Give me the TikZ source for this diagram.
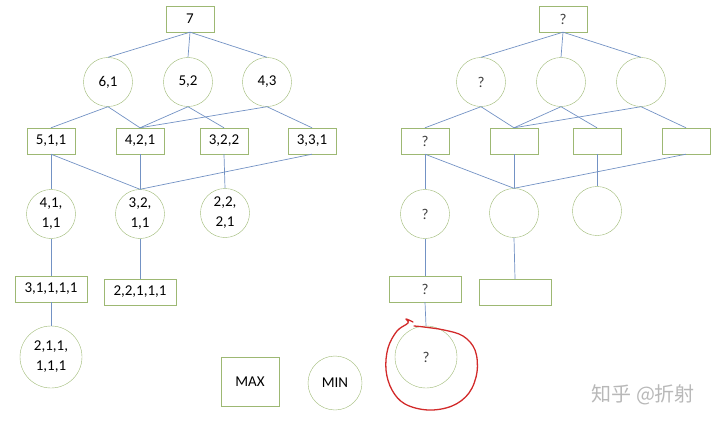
\documentclass[tikz,border=0pt]{standalone}
\usepackage{fontspec}
\setmainfont{Carlito}
\newfontfamily\cjkfont{Noto Sans CJK SC}
\usetikzlibrary{positioning}
\definecolor{nodeline}{HTML}{9DB873}
\definecolor{edgeline}{HTML}{7392C4}
\definecolor{markred}{HTML}{D22A2A}
\definecolor{wmgray}{HTML}{B8B8B8}

\begin{document}
\begin{tikzpicture}[x=1pt, y=-1pt,
  maxb/.style={draw=nodeline, rectangle, minimum width=48pt, minimum height=26pt,
               inner sep=0pt, align=center, font=\fontsize{15}{20}\selectfont},
  wideb/.style={maxb, minimum width=72pt},
  minc/.style={draw=nodeline, circle, minimum size=49pt, inner sep=0pt,
               align=center, font=\fontsize{15}{20}\selectfont},
  bigc/.style={minc, minimum size=62pt},
  edge/.style={draw=edgeline, line width=0.7pt},
  qm/.style={text=black!75}]
\useasboundingbox (0,0) rectangle (720,425);
% left tree
\node[maxb] (l7) at (190,19) {7};
\node[minc] (l61) at (108,82) {6,1};
\node[minc] (l52) at (188,82) {5,2};
\node[minc] (l43) at (267,82) {4,3};
\node[maxb] (l511) at (51,141) {5,1,1};
\node[maxb] (l421) at (140,141) {4,2,1};
\node[maxb] (l322) at (224,141) {3,2,2};
\node[maxb] (l331) at (312,141) {3,3,1};
\node[minc] (l4111) at (51,214) {4,1,\\1,1};
\node[minc] (l3211) at (140,214) {3,2,\\1,1};
\node[minc] (l2221) at (225,213) {2,2,\\2,1};
\node[wideb] (l31111) at (51,289) {3,1,1,1,1};
\node[wideb] (l22111) at (140,292) {2,2,1,1,1};
\node[bigc] (l211111) at (51,357) {2,1,1,\\1,1,1};
\draw[edge] (l7.south) -- (l61.north);
\draw[edge] (l7.south) -- (l52.north);
\draw[edge] (l7.south) -- (l43.north);
\draw[edge] (l61.south) -- (l511.north);
\draw[edge] (l61.south) -- (l421.north);
\draw[edge] (l52.south) -- (l421.north);
\draw[edge] (l52.south) -- (l322.north);
\draw[edge] (l43.south) -- (l421.north);
\draw[edge] (l43.south) -- (l331.north);
\draw[edge] (l511.south) -- (l4111.north);
\draw[edge] (l511.south) -- (l3211.north);
\draw[edge] (l421.south) -- (l3211.north);
\draw[edge] (l331.south) -- (l3211.north);
\draw[edge] (l322.south) -- (l2221.north);
\draw[edge] (l4111.south) -- (l31111.north);
\draw[edge] (l3211.south) -- (l22111.north);
\draw[edge] (l31111.south) -- (l211111.north);
% legend
\node[maxb, minimum width=58pt, minimum height=49pt] (maxkey) at (250,382) {MAX};
\node[minc, minimum size=54pt] (minkey) at (335,383) {MIN};
% right tree
\node[maxb, qm] (r0) at (563,19) {?};
\node[minc, qm] (rc1) at (481,82) {?};
\node[minc] (rc2) at (561,82) {};
\node[minc] (rc3) at (641,82) {};
\node[maxb, qm] (rb1) at (425,141) {?};
\node[maxb] (rb2) at (514,141) {};
\node[maxb] (rb3) at (597,141) {};
\node[maxb] (rb4) at (686,141) {};
\node[minc, qm] (rd1) at (425,214) {?};
\node[minc] (rd2) at (514,213) {};
\node[minc] (rd3) at (597,211) {};
\node[wideb, qm] (re1) at (425,289) {?};
\node[wideb] (re2) at (515,292) {};
\node[bigc, qm] (rf1) at (426,357) {?};
\draw[edge] (r0.south) -- (rc1.north);
\draw[edge] (r0.south) -- (rc2.north);
\draw[edge] (r0.south) -- (rc3.north);
\draw[edge] (rc1.south) -- (rb1.north);
\draw[edge] (rc1.south) -- (rb2.north);
\draw[edge] (rc2.south) -- (rb2.north);
\draw[edge] (rc2.south) -- (rb3.north);
\draw[edge] (rc3.south) -- (rb2.north);
\draw[edge] (rc3.south) -- (rb4.north);
\draw[edge] (rb1.south) -- (rd1.north);
\draw[edge] (rb1.south) -- (rd2.north);
\draw[edge] (rb2.south) -- (rd2.north);
\draw[edge] (rb4.south) -- (rd2.north);
\draw[edge] (rb3.south) -- (rd3.north);
\draw[edge] (rd1.south) -- (re1.north);
\draw[edge] (rd2.south) -- (re2.north);
\draw[edge] (re1.south) -- (rf1.north);
% red mark round the last node
\draw[markred, line width=1.3pt, line join=round, line cap=round]
  plot[smooth, tension=0.6] coordinates {(413,322) (406,319) (408,323) (397,331)
  (388,348) (386,370) (392,390) (405,404) (428,410) (452,406) (469,393)
  (477,372) (475,350) (463,336) (444,330) (424,327) (414,326)};
% watermark
\node[text=wmgray, font=\cjkfont\fontsize{20}{24}\selectfont, anchor=west] (wm) at (588,395) {知乎 @折射};
\end{tikzpicture}
\end{document}
